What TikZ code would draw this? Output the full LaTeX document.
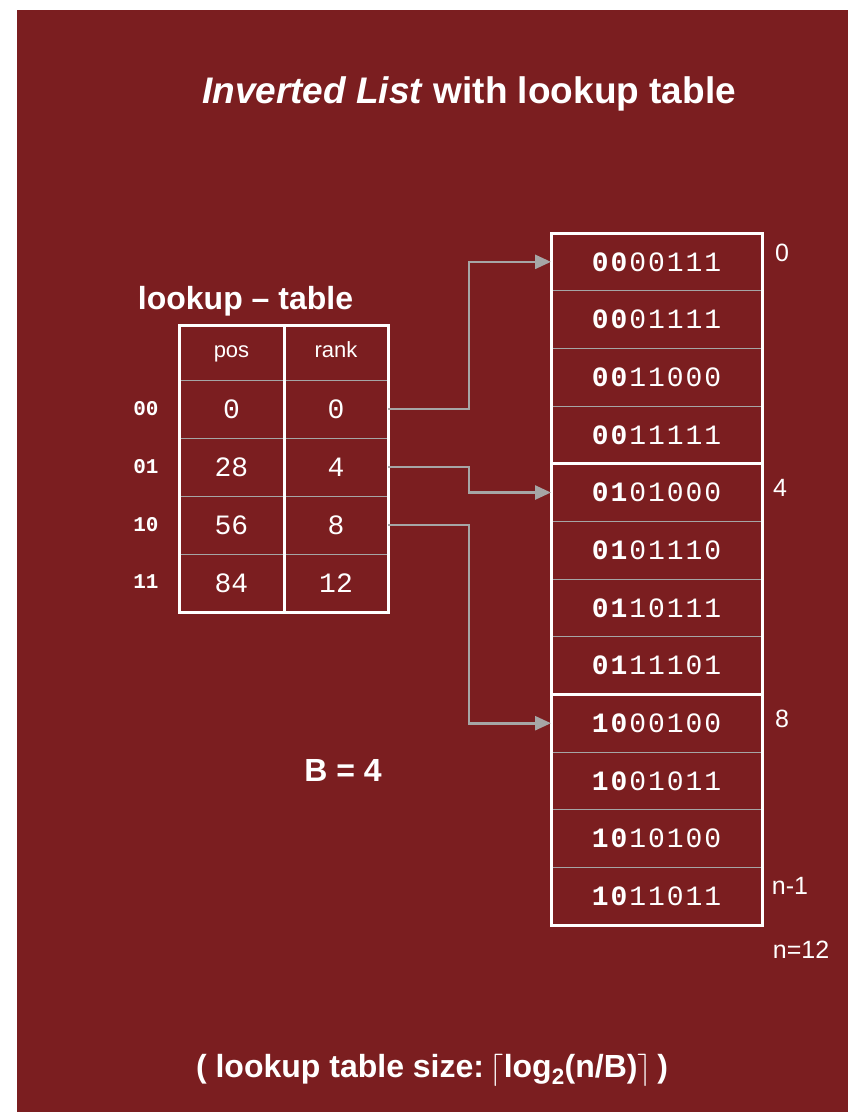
\documentclass[tikz,border=0pt]{standalone}
\usepackage{fontspec}
\setmainfont{Liberation Sans}
\newfontfamily\listfont{Liberation Mono}[LetterSpace=7]
\newfontfamily\cellfont{Liberation Mono}
\usetikzlibrary{arrows.meta}
\definecolor{slidered}{RGB}{123,30,32}
\definecolor{rulegray}{RGB}{165,165,165}
\definecolor{arrowgray}{RGB}{166,166,166}
\newcommand{\ceilbar}[1]{\raisebox{-1pt}{\scalebox{1.3}{$#1$}}}

\begin{document}
\begin{tikzpicture}[x=1pt,y=-1pt,
  every node/.style={text=white, inner sep=0pt, outer sep=0pt},
  listcell/.style={draw=rulegray, line width=1pt, minimum width=211pt, minimum height=57.67pt,
    font=\listfont\fontsize{28}{28}\selectfont},
  tabcell/.style={draw=rulegray, line width=1pt, minimum height=58pt,
    font=\cellfont\fontsize{28}{28}\selectfont},
  headcell/.style={draw=rulegray, line width=1pt, minimum height=55pt,
    text height=14pt, text depth=4pt, font=\fontsize{22}{22}\selectfont},
  frame/.style={draw=white, line width=3pt},
  link/.style={draw=arrowgray, line width=2.6pt, -{Triangle[length=16pt,width=14pt]}},
  rowkey/.style={font=\cellfont\bfseries\fontsize{21}{21}\selectfont},
  sidelabel/.style={font=\fontsize{25}{25}\selectfont},
  heading/.style={font=\bfseries\fontsize{32}{32}\selectfont}
]
\useasboundingbox (0,0) rectangle (848,1112);
\fill[white] (0,0) rectangle (848,1112);
\fill[slidered] (17,10) rectangle (848,1112);

% title
\node[font=\bfseries\fontsize{37}{37}\selectfont, anchor=base] (title) at (469,103)
  {\textit{Inverted List} with lookup table};

% inverted list entries
\foreach \i/\p/\s in {0/00/00111, 1/00/01111, 2/00/11000, 3/00/11111,
                      4/01/01000, 5/01/01110, 6/01/10111, 7/01/11101,
                      8/10/00100, 9/10/01011, 10/10/10100, 11/10/11011}
  \node[listcell] (c\i) at (656.5,{233+57.67*(\i+0.5)}) {\textbf{\p}\s};
\draw[frame] (c0.north west) rectangle (c11.south east);
\draw[frame] (c3.south west) -- (c3.south east);
\draw[frame] (c7.south west) -- (c7.south east);

% list indices
\node[sidelabel] (l0) at (782,253) {0};
\node[sidelabel] (l4) at (780,488) {4};
\node[sidelabel] (l8) at (782,719) {8};
\node[sidelabel] (ln1) at (790,886) {n-1};
\node[sidelabel] (ln) at (801,950) {n=12};

% lookup table
\node[heading, anchor=base] (tabtitle) at (245.5,309) {lookup – table};
\node[headcell, minimum width=105pt] (hp) at (231.5,352.5) {pos};
\node[headcell, minimum width=104pt] (hr) at (336,352.5) {rank};
\foreach \i/\a/\b in {0/0/0, 1/28/4, 2/56/8, 3/84/12} {
  \node[tabcell, minimum width=105pt] (p\i) at (231.5,{380+58*(\i+0.5)}) {\a};
  \node[tabcell, minimum width=104pt] (r\i) at (336,{380+58*(\i+0.5)}) {\b};
}
\draw[frame] (hp.north west) rectangle (r3.south east);
\draw[frame] (hp.north east) -- (p3.south east);

% prefix keys
\node[rowkey] (k0) at (146,409) {00};
\node[rowkey] (k1) at (146,467) {01};
\node[rowkey] (k2) at (146,525) {10};
\node[rowkey] (k3) at (146,582) {11};

% pointers from table to list
\draw[link] (r0.east) -- ++(81,0) |- (c0.west);
\draw[link] (r1.east) -- ++(81,0) |- (c4.west);
\draw[link] (r2.east) -- ++(81,0) |- (c8.west);

\node[heading] (bsize) at (343,770) {B = 4};

\node[heading, anchor=base] (size) at (432,1077)
  {( lookup table size:\,\ceilbar{\lceil}log\textsubscript{2}(n/B)\ceilbar{\rceil}\,)};
\end{tikzpicture}
\end{document}
